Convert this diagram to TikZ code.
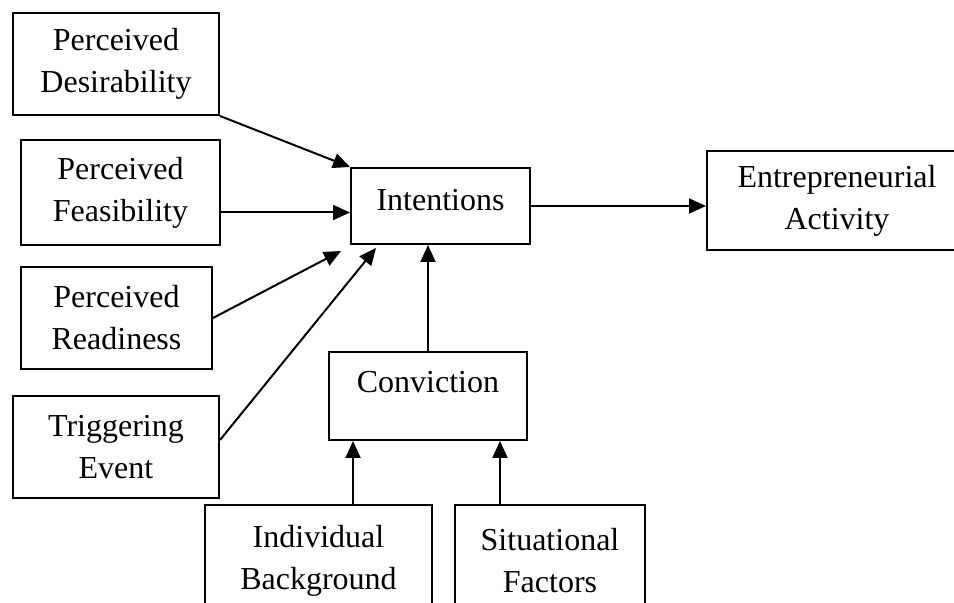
\documentclass[tikz,border=0pt]{standalone}
\usepackage{fontspec}
\setmainfont{Liberation Serif}
\usetikzlibrary{arrows.meta}
\begin{document}
\begin{tikzpicture}[x=0.5pt, y=-0.5pt, boxStyle/.style={rectangle, draw, line width=1pt, inner sep=0pt, align=center, font=\fontsize{16}{21}\selectfont}, arrowStyle/.style={-{Triangle[length=8.5pt, width=7.5pt]}, line width=1pt}]
                    \clip (0, 0) rectangle (954, 603);

                    \node[boxStyle, minimum width=103pt, minimum height=51pt]   (desir_0)   at (116, 64)      {Perceived\\Desirability};
                    \node[boxStyle, minimum width=99.75pt, minimum height=52.5pt] (feas_0) at (120.5, 192.5) {Perceived\\Feasibility};
                    \node[boxStyle, minimum width=95.5pt, minimum height=51pt]  (ready_0)   at (116.5, 318)   {Perceived\\Readiness};
                    \node[boxStyle, minimum width=103pt, minimum height=51pt]   (trigger_0) at (116, 447)     {Triggering\\Event};

                    \node[boxStyle, minimum width=89.5pt, minimum height=38pt, text height=10pt, text depth=5.5pt] (intent_0) at (440.5, 206) {Intentions};
                    \node[boxStyle, minimum width=130pt, minimum height=49.5pt] (activity_0) at (837, 200.5)  {Entrepreneurial\\Activity};

                    \node[boxStyle, minimum width=99pt, minimum height=44pt, text height=10pt, text depth=13pt] (conv_0) at (428, 396) {Conviction};
                    \coordinate (conv_L) at ([xshift=12.5pt]conv_0.south west);
                    \coordinate (conv_R) at ([xshift=-14pt]conv_0.south east);

                    \node[boxStyle, minimum width=113.5pt, minimum height=56pt] (indiv_0) at (318.5, 561)    {Individual\\Background};
                    \node[boxStyle, minimum width=95pt, minimum height=56pt]    (situ_0)  at (550, 561)      {Situational\\Factors};

                    \draw[arrowStyle] (desir_0.south east) -- (intent_0.north west);
                    \draw[arrowStyle] ([yshift=-10pt]feas_0.east) -- ([yshift=-10pt]feas_0.east -| intent_0.west);
                    \draw[arrowStyle] (ready_0.east) -- ([xshift=-4.5pt, yshift=-3pt]intent_0.south west);
                    \draw[arrowStyle] ([yshift=3.5pt]trigger_0.east) -- ([xshift=13pt, yshift=-1.5pt]intent_0.south west);
                    \draw[arrowStyle] (conv_0.north) -- (conv_0.north |- intent_0.south);
                    \draw[arrowStyle] (intent_0.east) -- (intent_0.east -| activity_0.west);
                    \draw[arrowStyle] (indiv_0.north -| conv_L) -- (conv_L);
                    \draw[arrowStyle] (situ_0.north -| conv_R) -- (conv_R);
                \end{tikzpicture}
\end{document}
